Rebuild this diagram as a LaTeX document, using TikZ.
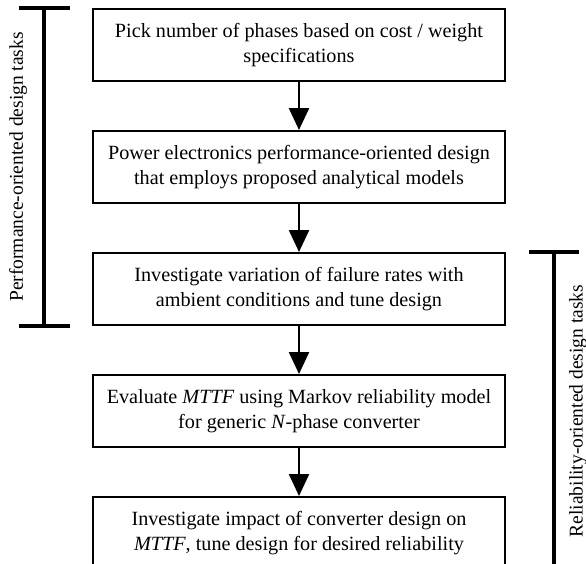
\documentclass[tikz,border=0pt]{standalone}
\usepackage{fontspec}
\setmainfont{Liberation Serif}
\usepackage{tikz}
\usetikzlibrary{arrows.meta,positioning,calc}

\tikzset{
  taskbox/.style={draw,line width=2pt,minimum width=412pt,minimum height=72pt,
    align=center,font=\fontsize{20.2}{25}\selectfont,inner sep=0pt},
  flow/.style={line width=2.4pt,-{Triangle[width=20pt,length=22pt]}},
  bracket/.style={line width=4pt},
  bracketlabel/.style={rotate=90,anchor=north,inner sep=0pt,font=\fontsize{19.5}{22}\selectfont}
}

\begin{document}
\begin{tikzpicture}[node distance=48pt]
\useasboundingbox (0pt,0pt) rectangle (586pt,-563pt);

% Design steps
\node[taskbox] (pick) at (299pt,-45pt) {Pick number of phases based on cost / weight\\specifications};
\node[taskbox,below=of pick] (perf) {Power electronics performance-oriented design\\that employs proposed analytical models};
\node[taskbox,below=of perf] (vary) {Investigate variation of failure rates with\\ambient conditions and tune design};
\node[taskbox,below=of vary] (mttf) {Evaluate \textit{MTTF} using Markov reliability model\\for generic \textit{N}-phase converter};
\node[taskbox,below=of mttf] (impact) {Investigate impact of converter design on\\\textit{MTTF}, tune design for desired reliability};

% Flow between steps
\draw[flow] (pick) -- (perf);
\draw[flow] (perf) -- (vary);
\draw[flow] (vary) -- (mttf);
\draw[flow] (mttf) -- (impact);

% Performance bracket (left)
\coordinate (ptop) at ($(pick.north west)+(-48pt,0)$);
\coordinate (pbot) at ($(vary.south west)+(-48pt,0)$);
\draw[bracket] (ptop) -- (pbot);
\draw[bracket] ($(ptop)+(-25pt,0)$) -- ($(ptop)+(26pt,0)$);
\draw[bracket] ($(pbot)+(-25pt,0)$) -- ($(pbot)+(26pt,0)$);
\node[bracketlabel] (perflabel) at ($(ptop)!0.5!(pbot)+(-35pt,0)$) {Performance-oriented design tasks};

% Reliability bracket (right)
\coordinate (rtop) at ($(vary.north east)+(48pt,0)$);
\coordinate (rbot) at ($(impact.south east)+(48pt,0)$);
\draw[bracket] (rtop) -- (rbot);
\draw[bracket] ($(rtop)+(-25pt,0)$) -- ($(rtop)+(25pt,0)$);
\draw[bracket] ($(rbot)+(-25pt,0)$) -- ($(rbot)+(25pt,0)$);
\node[bracketlabel] (rellabel) at ($(rtop)!0.5!(rbot)+(15pt,0)$) {Reliability-oriented design tasks};
\end{tikzpicture}
\end{document}
